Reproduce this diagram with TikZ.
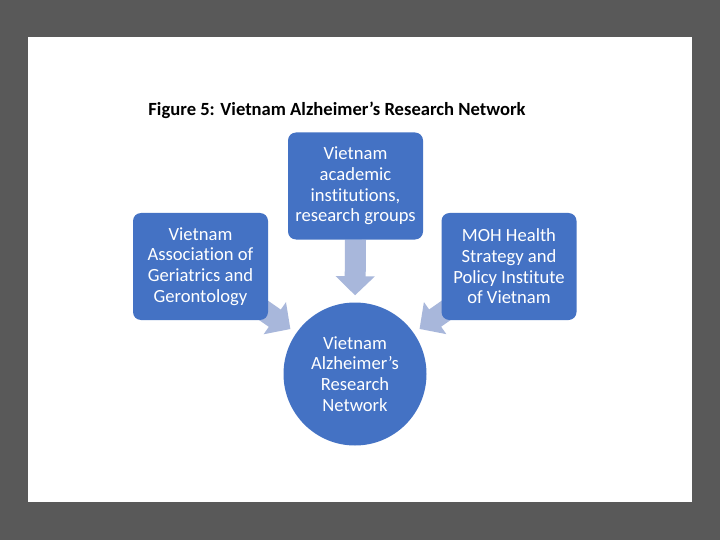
\documentclass[tikz,border=0pt]{standalone}
\usepackage{fontspec}
\setmainfont{Carlito}[Ligatures=NoCommon]
\usetikzlibrary{arrows.meta,backgrounds}
\definecolor{boxblue}{HTML}{4472C4}
\definecolor{arrowblue}{HTML}{A8B7DB}
\definecolor{framegray}{HTML}{595959}

\begin{document}
\begin{tikzpicture}[x=1pt,y=-1pt,
  box/.style={fill=boxblue,rounded corners=8pt,text=white,align=center,
    font=\fontsize{18.6}{20.7}\selectfont,minimum width=135pt,minimum height=107pt,inner sep=0pt},
  hub/.style={circle,fill=boxblue,text=white,align=center,
    font=\fontsize{18.6}{20.7}\selectfont,minimum size=143pt,inner sep=0pt},
  feed/.style={arrowblue,line width=21pt,-{Triangle[width=38pt,length=19pt]},shorten >=7pt}]
\node[font=\bfseries\fontsize{18.6}{20}\selectfont] (title) at (337,110) {Figure 5: Vietnam Alzheimer’s Research Network};
\node[box] (acad) at (355.5,186) {Vietnam\\academic\\institutions,\\research groups};
\node[box] (assoc) at (200.5,266.5) {Vietnam\\Association of\\Geriatrics and\\Gerontology};
\node[box] (moh) at (509,266.5) {MOH Health\\Strategy and\\Policy Institute\\of Vietnam};
\node[hub] (net) at (355,374) {Vietnam\\Alzheimer’s\\Research\\Network};
\begin{scope}[on background layer]
\fill[framegray] (0,0) rectangle (720,540);
\fill[white] (28,37) rectangle (692,502);
\draw[feed] (acad.south) -- (net.north);
\draw[feed] (assoc.center) -- (net);
\draw[feed] (moh.center) -- (net);
\end{scope}
\end{tikzpicture}
\end{document}
